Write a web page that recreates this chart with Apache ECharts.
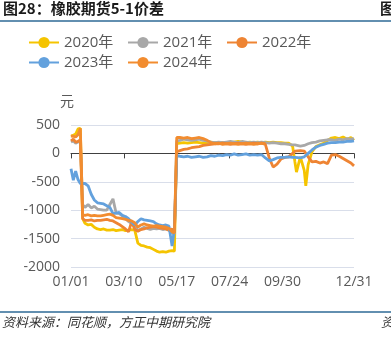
<!DOCTYPE html>
<html><head><meta charset="utf-8">
<script src="https://cdn.jsdelivr.net/npm/echarts@6/dist/echarts.min.js"></script>
<style>html,body{margin:0;padding:0;background:#fff}#c{width:391px;height:337px}</style>
</head><body><div id="c"></div>
<script>
// sample day indices (0 = 01/01)
const days = [0,3,6,9,12,14,15,18,22,26,30,34,38,42,46,50,54,58,62,66,70,74,78,82,86,90,94,98,102,106,110,114,118,122,126,130,133,135,
  136,140,145,150,155,160,165,170,175,180,185,190,195,200,205,210,215,220,225,230,235,240,245,250,255,260,265,270,275,280,285,288,290,295,300,302,305,310,315,320,325,330,335,340,345,350,355,360,364];

const seriesNames = ['2020年','2021年','2022年','2023年','2024年'];

const v2020 = [300,320,340,430,440,420,-1150,-1230,-1260,-1250,-1300,-1330,-1340,-1330,-1350,-1350,-1340,-1360,-1350,-1340,-1360,-1350,-1340,-1350,-1580,-1620,-1630,-1650,-1660,-1690,-1720,-1740,-1730,-1740,-1720,-1710,-1720,-1690,
  170,180,190,180,190,200,190,180,190,200,190,180,190,180,190,200,210,200,190,200,190,200,190,200,190,200,190,190,180,180,130,-150,-330,-60,-300,-570,-200,30,120,150,180,230,270,280,260,290,250,280,230];

const v2021 = [200,220,180,200,230,240,-900,-950,-900,-960,-930,-980,-990,-1000,-1000,-900,-800,-1050,-1060,-1100,-1150,-1200,-1230,-1280,-1360,-1330,-1300,-1320,-1340,-1320,-1330,-1320,-1340,-1330,-1350,-1400,-1420,-1400,
  220,230,250,240,230,240,250,230,220,200,190,200,190,200,210,200,190,210,200,190,200,190,200,190,180,190,180,170,170,160,150,150,140,130,140,150,170,190,200,220,230,240,240,230,250,240,260,250,260];

const v2022 = [220,250,200,210,240,250,-1150,-1180,-1180,-1170,-1190,-1180,-1180,-1170,-1160,-1180,-1190,-1220,-1250,-1290,-1330,-1380,-1200,-1340,-1370,-1340,-1330,-1310,-1300,-1290,-1300,-1310,-1320,-1330,-1350,-1330,-1390,-1400,
  30,50,70,80,100,110,120,140,150,160,170,170,180,170,160,170,180,170,160,170,180,170,180,160,-80,-240,-190,-100,-70,-60,0,40,50,50,40,20,-60,-150,-140,-170,-150,-180,-30,-20,-50,-90,-130,-170,-220];

const v2023 = [-270,-470,-310,-460,-530,-520,-530,-530,-570,-720,-820,-870,-880,-890,-920,-950,-1060,-1050,-1040,-1090,-1110,-1150,-1210,-1260,-1200,-1150,-1170,-1180,-1190,-1200,-1240,-1260,-1270,-1260,-1280,-1630,-1330,-1300,
  -40,-50,-60,-50,-70,-60,-50,-70,-60,-40,-50,-30,-40,-20,-30,-10,-30,-20,-10,-30,-20,-30,-20,-80,-130,-110,-80,-70,-70,-60,-70,-70,-70,-80,-60,-40,0,60,110,140,160,180,190,190,200,200,210,210,220];

const v2024 = [310,300,290,330,440,440,-1080,-1090,-1080,-1100,-1090,-1100,-1100,-1090,-1080,-1070,-1090,-1130,-1140,-1150,-1160,-1180,-1190,-1220,-1300,-1260,-1240,-1260,-1270,-1280,-1270,-1280,-1290,-1300,-1320,-1380,-1400,-1380,
  280,280,270,280,260,270,280,260,230,190,170,180,160,170,180,170,160,170,180,170,160,170,180,170,null,null,null,null,null,null,null,null,null,null,null,null,null,null,null,null,null,null,null,null,null,null,null,null,null];

const colors = ['#F5C400','#A8A8A8','#EE8433','#63A1DD','#F28C2F'];
const yTicks = {min:-2000, max:500, interval:500};
const shownLabelDays = [0,68,136,204,272,364];
const tickDays = [0,68,136,204,272,340,364];

// categories: every day of a non-leap year as MM/DD
const cats = [];
for (let i = 0; i < 365; i++) {
  const d = new Date(Date.UTC(2023,0,1) + i*86400000);
  cats.push(String(d.getUTCMonth()+1).padStart(2,'0') + '/' + String(d.getUTCDate()).padStart(2,'0'));
}

const allVals = [v2020, v2021, v2022, v2023, v2024];
const series = allVals.map((vals, k) => ({
  name: seriesNames[k],
  type: 'line',
  symbol: 'circle',
  showSymbol: false,
  z: k === 4 ? 5 : 2 + k,
  lineStyle: {width: 2.8, color: colors[k]},
  itemStyle: {color: colors[k]},
  data: days.map((d, i) => [cats[d], vals[i]]).filter(p => p[1] !== null)
}));

const chart = echarts.init(document.getElementById('c'));
chart.setOption({
  animation: false,
  textStyle: {fontFamily: 'Open Sans, Noto Sans CJK SC, sans-serif'},
  grid: {left: 71, right: 37, top: 125, bottom: 70},
  legend: {
    left: 28, top: 35, width: 310, padding: 0,
    itemWidth: 30, itemHeight: 14, itemGap: 5,
    textStyle: {fontSize: 15, color: '#595959', width: 58, lineHeight: 15, fontFamily: 'Open Sans, Noto Sans CJK SC, sans-serif'},
    data: seriesNames
  },
  xAxis: {
    type: 'category', data: cats, boundaryGap: false,
    axisLine: {lineStyle: {color: '#404040', width: 1}},
    axisTick: {length: 5, lineStyle: {color: '#404040'}, interval: (i) => tickDays.includes(i)},
    axisLabel: {fontSize: 14, color: '#595959', margin: 8, interval: (i) => shownLabelDays.includes(i)},
    splitLine: {show: false}
  },
  yAxis: {
    type: 'value', min: yTicks.min, max: yTicks.max, interval: yTicks.interval,
    name: '元', nameLocation: 'end', nameGap: 16,
    nameTextStyle: {fontSize: 14, color: '#595959', align: 'center', padding: [0, 8, 0, 0]},
    axisLine: {show: false}, axisTick: {show: false},
    axisLabel: {fontSize: 14, color: '#595959', margin: 11, formatter: (v) => String(v)},
    splitLine: {lineStyle: {color: '#D9DEEA', width: 1}}
  },
  graphic: [
    {type: 'text', left: 3, top: 1, style: {text: '图28：橡胶期货5-1价差', fontSize: 15, fontWeight: 'bold', fill: '#1a1a1a', fontFamily: 'Noto Sans CJK SC'}},
    {type: 'text', left: 380, top: 1, style: {text: '图', fontSize: 15, fontWeight: 'bold', fill: '#1a1a1a', fontFamily: 'Noto Sans CJK SC'}},
    {type: 'line', shape: {x1: 0, y1: 21, x2: 391, y2: 21}, style: {stroke: '#2E6A96', lineWidth: 1.5}},
    {type: 'line', shape: {x1: 0, y1: 312, x2: 391, y2: 312}, style: {stroke: '#2E6A96', lineWidth: 1.5}},
    {type: 'text', left: 2, top: 316, style: {text: '资料来源：同花顺，方正中期研究院', fontSize: 13, fontStyle: 'italic', fill: '#333', fontFamily: 'Noto Sans CJK SC'}},
    {type: 'text', left: 381, top: 316, style: {text: '资', fontSize: 13, fontStyle: 'italic', fill: '#333', fontFamily: 'Noto Sans CJK SC'}}
  ],
  series: series
});
</script></body></html>
